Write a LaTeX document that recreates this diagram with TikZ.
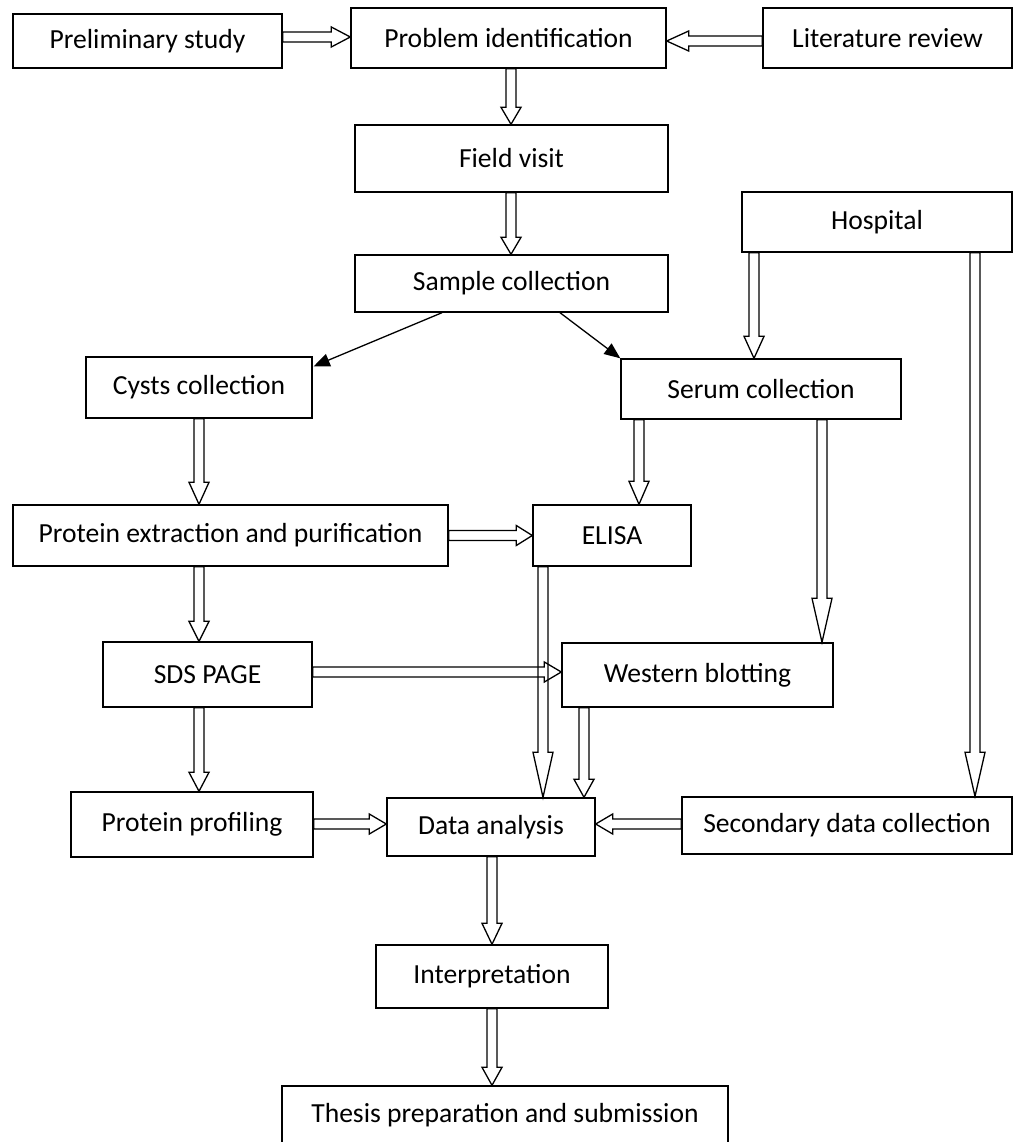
\documentclass[tikz,border=0pt]{standalone}
\usepackage{fontspec}
\setmainfont{Carlito}
\usetikzlibrary{calc,arrows.meta}
\tikzset{
  box/.style={draw, line width=1.4pt, inner sep=0pt, font=\fontsize{27.6pt}{32pt}\selectfont, align=center},
  blockline/.style={line width=1.3pt, line join=miter},
  thinarrow/.style={line width=1.3pt, -{Triangle[length=16pt,width=13pt]}},
}
\newcommand\barr[3][19]{%
  \coordinate (tmpA) at (#2);
  \coordinate (tmpB) at (#3);
  \coordinate (tmpP) at ($(tmpB)!#1pt!(tmpA)$);
  \draw[blockline] ($(tmpA)!5pt!90:(tmpB)$) -- ($(tmpP)!5pt!90:(tmpB)$) -- ($(tmpP)!10pt!90:(tmpB)$) -- (tmpB) -- ($(tmpP)!10pt!-90:(tmpB)$) -- ($(tmpP)!5pt!-90:(tmpB)$) -- ($(tmpA)!5pt!-90:(tmpB)$) -- cycle;}
\begin{document}
\begin{tikzpicture}[x=1pt,y=-1pt]
\useasboundingbox (0,0) rectangle (1014,1142);
% boxes
\node[box, minimum width=269pt, minimum height=54pt] (prelim) at (147.5,41) {Preliminary study};
\node[box, minimum width=315pt, minimum height=60pt] (prob) at (508.5,38) {Problem identification};
\node[box, minimum width=249pt, minimum height=60pt] (lit) at (887.5,38) {Literature review};
\node[box, minimum width=313pt, minimum height=67pt] (field) at (511.5,158.5) {Field visit};
\node[box, minimum width=270pt, minimum height=60pt] (hosp) at (877,222) {Hospital};
\node[box, minimum width=313pt, minimum height=57pt] (sample) at (511.5,283.5) {Sample collection};
\node[box, minimum width=226pt, minimum height=61pt] (cysts) at (199,387.5) {Cysts collection};
\node[box, minimum width=280pt, minimum height=60pt] (serum) at (761,389) {Serum collection};
\node[box, minimum width=435pt, minimum height=61pt] (protein) at (230.5,535.5) {Protein extraction and purification};
\node[box, minimum width=158pt, minimum height=61pt] (elisa) at (612,535.5) {ELISA};
\node[box, minimum width=209pt, minimum height=65pt] (sds) at (207.5,674.5) {SDS PAGE};
\node[box, minimum width=271pt, minimum height=64pt] (western) at (697.5,675) {Western blotting};
\node[box, minimum width=242pt, minimum height=65pt] (profiling) at (192,824.5) {Protein profiling};
\node[box, minimum width=208pt, minimum height=58pt] (data) at (491,827) {Data analysis};
\node[box, minimum width=330pt, minimum height=57pt] (secondary) at (847,825.5) {Secondary data collection};
\node[box, minimum width=232pt, minimum height=63pt] (interp) at (492,976.5) {Interpretation};
\node[box, minimum width=446pt, minimum height=59pt] (thesis) at (505,1115.5) {Thesis preparation and submission};
% helper coordinates
\coordinate (ya) at (0,37);
\coordinate (yb) at (0,41);
\coordinate (xc) at (511,0);
\coordinate (xe) at (442,0);
\coordinate (xf) at (560,0);
\coordinate (xg) at (754,0);
\coordinate (xh) at (975,0);
\coordinate (xi) at (199,0);
\coordinate (xj) at (639,0);
\coordinate (xk) at (822,0);
\coordinate (xn) at (543,0);
\coordinate (yo) at (0,672);
\coordinate (xp) at (584,0);
\coordinate (yr) at (0,824);
\coordinate (xt) at (492,0);
% connectors
\barr{prelim.east |- ya}{prob.west |- ya}
\barr[22]{lit.west |- yb}{prob.east |- yb}
\barr[17]{prob.south -| xc}{field.north -| xc}
\barr[17]{field.south -| xc}{sample.north -| xc}
\draw[thinarrow] (sample.south -| xe) -- ($(cysts.north east)+(1,10)$);
\draw[thinarrow] (sample.south -| xf) -- (serum.north west);
\barr[22]{hosp.south -| xg}{serum.north -| xg}
\barr[44]{hosp.south -| xh}{secondary.north -| xh}
\barr[22]{cysts.south -| xi}{protein.north -| xi}
\barr[23]{serum.south -| xj}{elisa.north -| xj}
\barr[44]{serum.south -| xk}{western.north -| xk}
\barr[16]{protein.east}{elisa.west}
\barr[20]{protein.south -| xi}{sds.north -| xi}
\barr[45]{elisa.south -| xn}{data.north -| xn}
\barr[17]{sds.east |- yo}{western.west |- yo}
\barr[18]{western.south -| xp}{data.north -| xp}
\barr[19]{sds.south -| xi}{profiling.north -| xi}
\barr[17]{profiling.east |- yr}{data.west |- yr}
\barr[17]{secondary.west |- yr}{data.east |- yr}
\barr[21]{data.south -| xt}{interp.north -| xt}
\barr[18]{interp.south -| xt}{thesis.north -| xt}
\end{tikzpicture}
\end{document}
